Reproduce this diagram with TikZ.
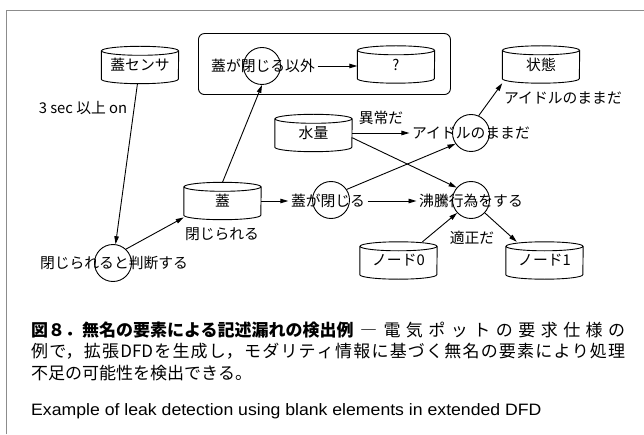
\documentclass[tikz,border=0pt]{standalone}
\usepackage{graphicx}
\usepackage{fontspec}
\newfontfamily\jp{Noto Sans CJK JP}
\newfontfamily\en{Liberation Sans}
\usetikzlibrary{arrows.meta}
\newcommand\cylnode[4]{%
  \node[store] (#1) at (#2,#3) {\raisebox{-2.5pt}{#4}};
  \draw[ln] ([yshift=-4.5pt]#1.north) ellipse [x radius=38.5pt, y radius=4.5pt];
  \draw[ln] ([yshift=-4.5pt]#1.north west) -- ([yshift=4.5pt]#1.south west)
     arc[start angle=180, end angle=360, x radius=38.5pt, y radius=4.5pt]
     -- ([yshift=-4.5pt]#1.north east);
}
\begin{document}
\begin{tikzpicture}[x=1pt,y=1pt,
  ln/.style={line width=0.9pt},
  arr/.style={ln, -{Triangle[length=8pt,width=4.5pt]}},
  txt/.style={inner sep=2.5pt, font=\jp\fontsize{14.8}{17}\selectfont},
  proc/.style={circle, draw, ln, minimum size=37pt, inner sep=0pt},
  store/.style={rectangle, minimum width=77pt, minimum height=37pt, inner sep=0pt,
                font=\jp\fontsize{14.8}{17}\selectfont},
]
\useasboundingbox (0,0) rectangle (644,434);
\draw[black!45, line width=1pt] (6,0) -- (6,423) -- (644,423);

% group box
\node[draw, ln, rounded corners=6pt, minimum width=252pt, minimum height=61pt,
      inner sep=0pt, anchor=south west] (grp) at (198,339) {};

% data stores
\cylnode{sensor}{140}{369}{蓋センサ}
\cylnode{q}{396}{369.5}{?}
\cylnode{state}{541}{369.5}{状態}
\cylnode{water}{313.5}{301}{水量}
\cylnode{lid}{222.5}{233}{蓋}
\cylnode{nodezero}{398.5}{173.5}{ノード0}
\cylnode{nodeone}{544.5}{173.5}{ノード1}

% processes
\node[proc] (cother) at (262,368) {};
\node[proc] (cidle) at (471,301) {};
\node[proc] (cclose) at (331,234) {};
\node[proc] (cboil) at (471,234) {};
\node[proc] (cjudge) at (113,171) {};

\node[txt] (tother) at (263,368) {蓋が閉じる以外};
\node[txt] (tidle) at (471,301) {アイドルのままだ};
\node[txt] (tclose) at (328,233) {蓋が閉じる};
\node[txt] (tboil) at (471,233) {沸騰行為をする};
\node[txt] (tjudge) at (114,171) {閉じられると判断する};

% labels
\node[txt] (lsec) at (83,326) {3 sec 以上 on};
\node[txt] (lstate) at (563,336) {アイドルのままだ};
\node[txt] (labn) at (381,316) {異常だ};
\node[txt] (lclosed) at (222,200) {閉じられる};
\node[txt] (lok) at (472,196) {適正だ};

% flows
\draw[arr] (sensor) -- (cjudge);
\draw[arr] (cjudge.47) -- (lid.203);
\draw[arr] (lid.north) -- (cother.south);
\draw[arr] (tother.east) -- (tother.east -| q.west);
\draw[arr] (water.east) -- (tidle.west);
\draw[arr] (cidle.66) -- (state.south west);
\draw[arr] (water.-7) -- (cboil.139);
\draw[arr] (cclose.34) -- (cidle.215);
\draw[arr] (lid.east) -- (tclose.west);
\draw[arr] (tclose.east) -- (tboil.west);
\draw[arr] (nodezero.38) -- (cboil.223);
\draw[arr] (cboil.317) -- (nodeone.146);

% caption
\node[anchor=north west, inner sep=0pt, text width=594pt, align=justify,
      font=\jp\fontsize{17}{21.5}\selectfont] (cap) at (31,112.5)
  {\XeTeXlinebreaklocale "ja"\XeTeXlinebreakskip=0pt plus 4pt
   \mbox{\bfseries 図８．無名の要素による記述漏れの検出例}\ ―\ 電気ポットの要求仕様の\linebreak
   例で，拡張DFDを生成し，モダリティ情報に基づく無名の要素により処理\linebreak
   不足の可能性を検出できる。};
\node[anchor=base west, inner sep=0pt, font=\en\fontsize{16.5}{18}\selectfont] (eng) at (31,19)
  {\scalebox{1.07}[1]{Example of leak detection using blank elements in extended DFD}};
\end{tikzpicture}
\end{document}
